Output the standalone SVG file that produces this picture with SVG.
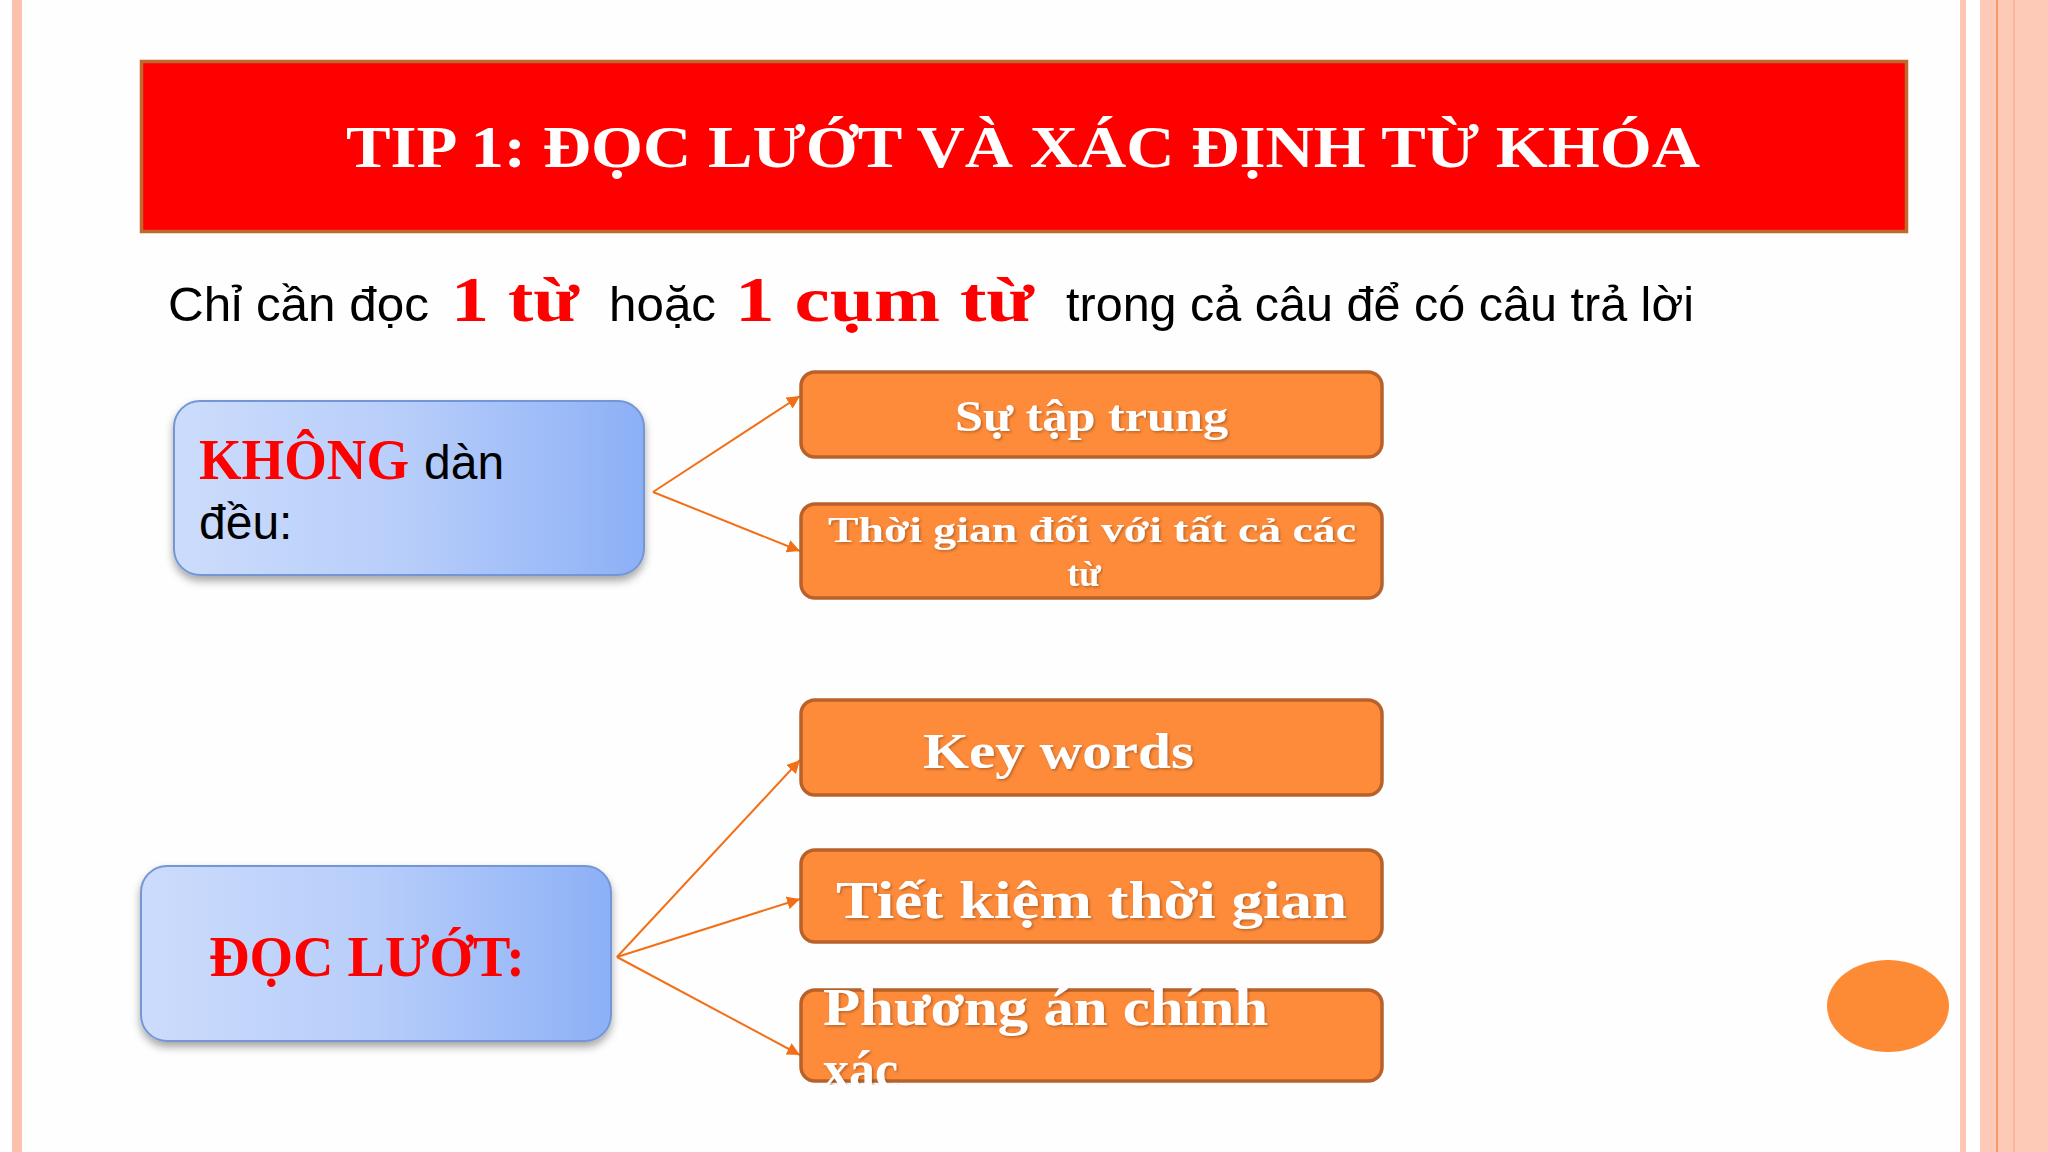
<svg xmlns="http://www.w3.org/2000/svg" width="2048" height="1152" viewBox="0 0 2048 1152">
<defs>
<style>
.sans{font-family:"Liberation Sans",Arial,sans-serif;}
.serif{font-family:"Liberation Serif","Times New Roman",serif;font-weight:bold;}
.obox{fill:#fd8b3a;stroke:#b9612b;stroke-width:3.5;}
.bbox{fill:url(#blueGrad);stroke:#7596d4;stroke-width:2;filter:url(#shadow);}
.wt{fill:#ffffff;filter:url(#tshadow);}
.conn{stroke:#f26f16;stroke-width:2;fill:none;marker-end:url(#arrow);}
</style>
<linearGradient id="blueGrad" x1="0" y1="0" x2="1" y2="0">
<stop offset="0" stop-color="#ccdcfb"/>
<stop offset="0.5" stop-color="#b7cdfa"/>
<stop offset="1" stop-color="#8cb0f6"/>
</linearGradient>
<filter id="shadow" x="-10%" y="-10%" width="120%" height="130%">
<feDropShadow dx="0" dy="5" stdDeviation="4" flood-color="#000" flood-opacity="0.35"/>
</filter>
<filter id="tshadow" x="-5%" y="-20%" width="110%" height="140%">
<feDropShadow dx="1.5" dy="1.5" stdDeviation="1" flood-color="#7a3a10" flood-opacity="0.5"/>
</filter>
<marker id="arrow" viewBox="0 0 10 10" refX="10" refY="5" markerWidth="6.5" markerHeight="6.5" markerUnits="strokeWidth" orient="auto">
<path d="M0,0 L10,5 L0,10 z" fill="#f26f16"/>
</marker>
<clipPath id="clipE"><rect x="790" y="985" width="600" height="100"/></clipPath>
</defs>

<rect x="0" y="0" width="2048" height="1152" fill="#fefefe"/>
<g id="decor">
<rect x="12" y="0" width="10" height="1152" fill="#fcc1ad"/>
<rect x="1960" y="0" width="6" height="1152" fill="#fcc6b2"/>
<rect x="1980" y="0" width="68" height="1152" fill="#fccab6"/>
<rect x="1996" y="0" width="2" height="1152" fill="#f79a6a"/>
<rect x="2013" y="0" width="2" height="1152" fill="#f8b89d"/>
<ellipse cx="1888" cy="1006" rx="61" ry="46" fill="#fd8a35"/>
</g>

<g id="title">
<rect x="141.5" y="61.5" width="1765" height="170" fill="#ff0000" stroke="#c0692f" stroke-width="3.5"/>
<text class="serif" x="346" y="167" font-size="60" fill="#ffffff" textLength="1354" lengthAdjust="spacingAndGlyphs">TIP 1: ĐỌC LƯỚT VÀ XÁC ĐỊNH TỪ KHÓA</text>
</g>

<g id="subtitle">
<text class="sans" x="168" y="321" font-size="49" fill="#000000" textLength="261" lengthAdjust="spacingAndGlyphs">Chỉ cần đọc</text>
<text class="serif" x="451" y="321" font-size="64" fill="#ff0000" textLength="128" lengthAdjust="spacingAndGlyphs">1 từ</text>
<text class="sans" x="609" y="321" font-size="49" fill="#000000" textLength="107" lengthAdjust="spacingAndGlyphs">hoặc</text>
<text class="serif" x="735" y="321" font-size="64" fill="#ff0000" textLength="299" lengthAdjust="spacingAndGlyphs">1 cụm từ</text>
<text class="sans" x="1066" y="321" font-size="49" fill="#000000" textLength="628" lengthAdjust="spacingAndGlyphs">trong cả câu để có câu trả lời</text>
</g>

<g id="connectors">
<line class="conn" x1="653" y1="492" x2="800" y2="396"/>
<line class="conn" x1="653" y1="492" x2="800" y2="551"/>
<line class="conn" x1="617" y1="957" x2="800" y2="760"/>
<line class="conn" x1="617" y1="957" x2="800" y2="899"/>
<line class="conn" x1="617" y1="957" x2="800" y2="1055"/>
</g>

<g id="node-khong">
<rect class="bbox" x="174" y="401" width="470" height="174" rx="26"/>
<text class="serif" x="199" y="479" font-size="56" fill="#ff0000" textLength="210" lengthAdjust="spacingAndGlyphs">KHÔNG</text>
<text class="sans" x="424" y="479" font-size="48" fill="#000000">dàn</text>
<text class="sans" x="199" y="539" font-size="48" fill="#000000">đều:</text>
</g>

<g id="node-docluot">
<rect class="bbox" x="141" y="866" width="470" height="175" rx="26"/>
<text class="serif" x="209" y="976" font-size="58" fill="#ff0000" textLength="316" lengthAdjust="spacingAndGlyphs">ĐỌC LƯỚT:</text>
</g>

<g id="node-taptrung">
<rect class="obox" x="801" y="372" width="581" height="85" rx="14"/>
<text class="serif wt" x="955" y="431" font-size="44" textLength="273" lengthAdjust="spacingAndGlyphs">Sự tập trung</text>
</g>

<g id="node-thoigian">
<rect class="obox" x="801" y="504" width="581" height="94" rx="14"/>
<text class="serif wt" x="828" y="542" font-size="36" textLength="528" lengthAdjust="spacingAndGlyphs">Thời gian đối với tất cả các</text>
<text class="serif wt" x="1084" y="586" font-size="36" text-anchor="middle">từ</text>
</g>

<g id="node-keywords">
<rect class="obox" x="801" y="700" width="581" height="95" rx="14"/>
<text class="serif wt" x="923" y="768" font-size="50" textLength="271" lengthAdjust="spacingAndGlyphs">Key words</text>
</g>

<g id="node-tietkiem">
<rect class="obox" x="801" y="850" width="581" height="92" rx="14"/>
<text class="serif wt" x="836" y="918" font-size="52" textLength="511" lengthAdjust="spacingAndGlyphs">Tiết kiệm thời gian</text>
</g>

<g id="node-phuongan">
<rect class="obox" x="801" y="990" width="581" height="91" rx="14"/>
<g clip-path="url(#clipE)">
<text class="serif wt" x="823" y="1025" font-size="52" textLength="445" lengthAdjust="spacingAndGlyphs">Phương án chính</text>
<text class="serif wt" x="823" y="1087" font-size="52">xác</text>
</g>
</g>
</svg>
